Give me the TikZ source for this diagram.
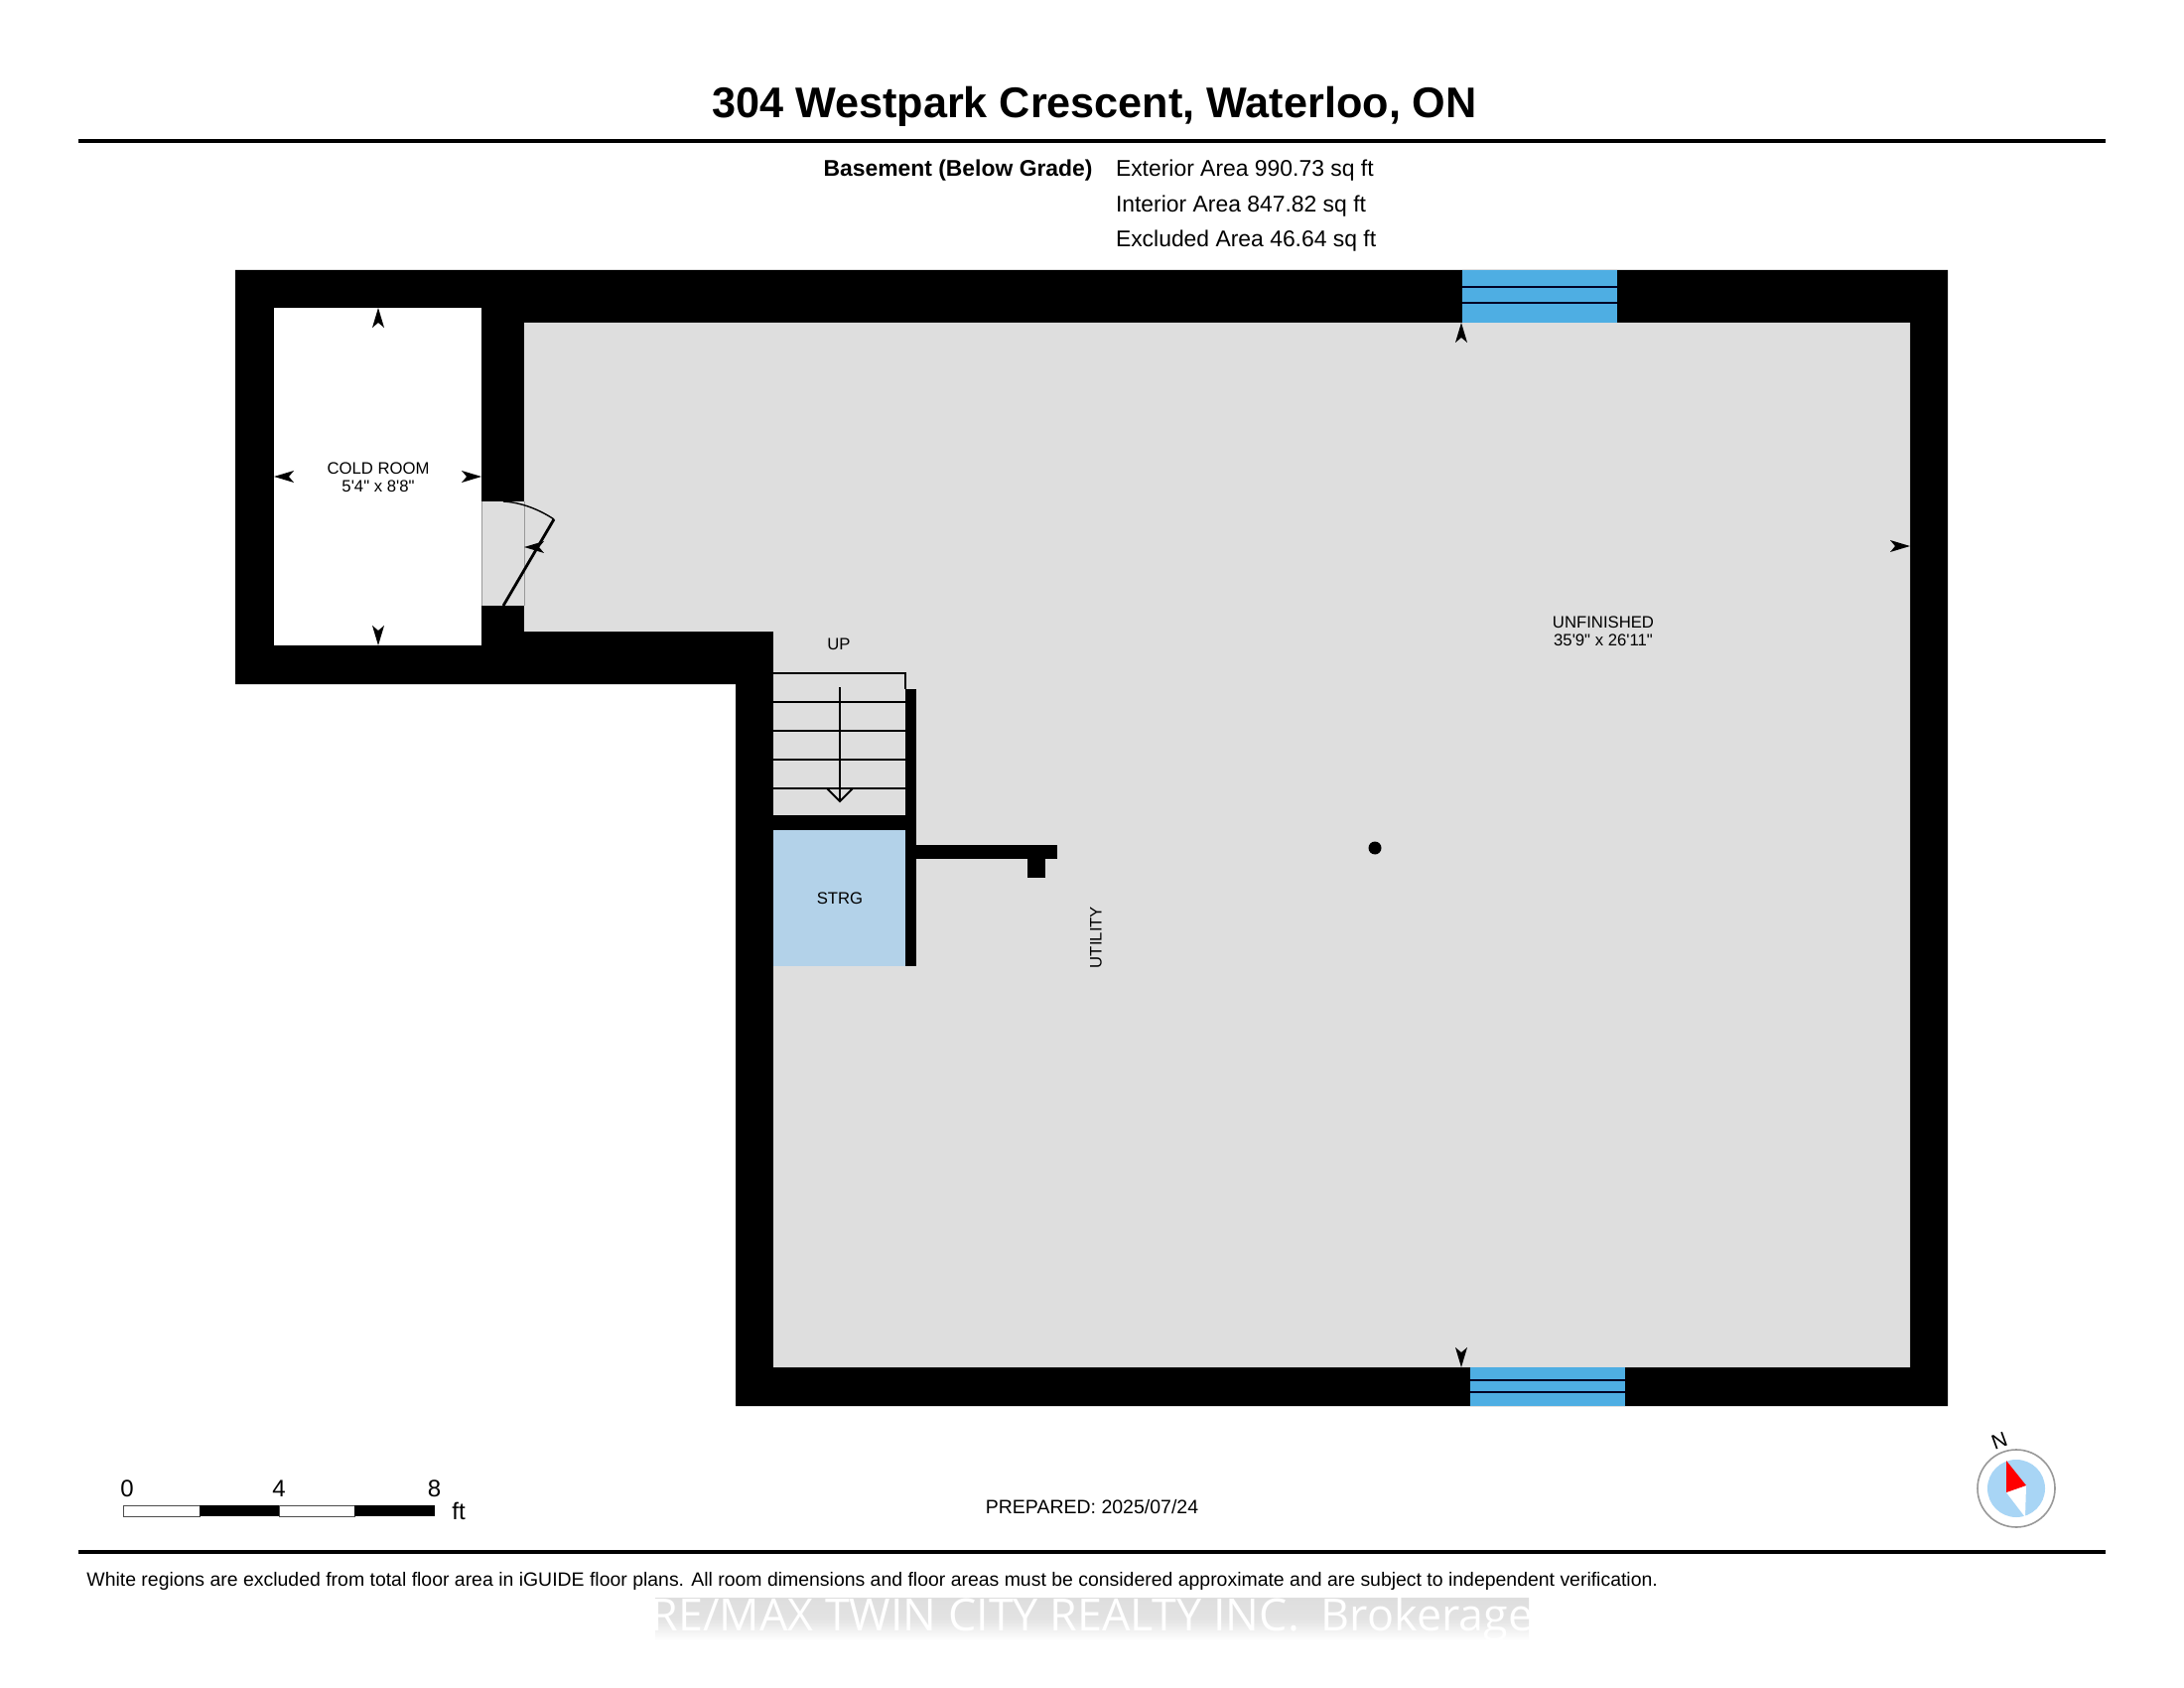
\documentclass[tikz,border=0pt]{standalone}
\usepackage{fontspec}
\setmainfont[Ligatures=TeXOff]{Liberation Sans}
\newfontfamily\wmfont{Open Sans}
\usetikzlibrary{shadings}
\definecolor{floorgray}{HTML}{DEDEDE}
\definecolor{strgblue}{HTML}{B3D2E9}
\definecolor{winblue}{HTML}{4EAEE3}
\definecolor{compblue}{HTML}{A8D5F5}
\newcommand{\arU}[2]{\fill (#1,#2) -- ++(-6,20) -- ++(6,-5) -- ++(6,5) -- cycle;}
\newcommand{\arD}[2]{\fill (#1,#2) -- ++(-6,-20) -- ++(6,5) -- ++(6,-5) -- cycle;}
\newcommand{\arL}[2]{\fill (#1,#2) -- ++(20,-6) -- ++(-5,6) -- ++(5,6) -- cycle;}
\newcommand{\arR}[2]{\fill (#1,#2) -- ++(-20,-6) -- ++(5,6) -- ++(-5,6) -- cycle;}
\tikzset{
  lbl/.style={inner sep=0pt,outer sep=0pt,align=center,font=\fontsize{8.35}{9}\selectfont},
  info/.style={inner sep=0pt,outer sep=0pt,anchor=base west,font=\fontsize{11.45}{14}\selectfont},
  scalelbl/.style={inner sep=0pt,outer sep=0pt,anchor=base,font=\fontsize{12}{14}\selectfont},
  rule/.style={line width=2pt,black},
  tread/.style={line width=1pt,black},
  winline/.style={line width=1pt,black!85!blue}
}
\begin{document}
\begin{tikzpicture}[x=0.5pt,y=-0.5pt]
\useasboundingbox (0,0) rectangle (2200,1700);
\fill[white] (0,0) rectangle (2200,1700);
% header
\node[inner sep=0pt,font=\bfseries\fontsize{21.6}{24}\selectfont] (title) at (1102.5,107) {304 Westpark Crescent, Waterloo, ON};
\coordinate (hl) at (79,142); \coordinate (hr) at (2121,142);
\draw[rule] (hl) -- (hr);
\node[inner sep=0pt,anchor=base east,font=\bfseries\fontsize{11.45}{14}\selectfont] (level) at (1101,178) {Basement (Below Grade)};
\node[info] (ext) at (1124,178) {Exterior Area 990.73 sq ft};
\node[info] (int) at (1124,213.5) {Interior Area 847.82 sq ft};
\node[info] (exc) at (1124,249) {Excluded Area 46.64 sq ft};
% walls
\fill[black] (237,272) -- (1962,272) -- (1962,1416) -- (741,1416) -- (741,689) -- (237,689) -- cycle;
\fill[floorgray] (528,325) -- (1924,325) -- (1924,1377) -- (779,1377) -- (779,636) -- (528,636) -- cycle;
\fill[white] (276,310) rectangle (485,650);
\fill[floorgray] (485,505) rectangle (528,610);
\draw[black!40,line width=0.4pt] (485,505) -- (485,610) (528,505) -- (528,610);
% windows
\fill[winblue] (1473,272) rectangle (1629,325);
\draw[winline] (1473,289) -- (1629,289) (1473,305) -- (1629,305);
\fill[winblue] (1481,1377) rectangle (1637,1416);
\draw[winline] (1481,1390) -- (1637,1390) (1481,1402) -- (1637,1402);
% stairs
\draw[tread] (779,678) -- (912,678) -- (912,694);
\draw[tread] (779,707) -- (912,707) (779,735.5) -- (912,735.5) (779,764.5) -- (912,764.5) (779,793.5) -- (912,793.5);
\fill[black] (779,821) rectangle (912,836);
\fill[black] (912,694) rectangle (923,973);
\fill[strgblue] (779,836) rectangle (912,973);
\fill[black] (923,851) rectangle (1065,865);
\fill[black] (1035,865) rectangle (1053,884);
\draw[tread] (846,692) -- (846,807);
\draw[tread] (833,794) -- (846,807) -- (859,794);
% column
\fill[black] (1385,854) circle[radius=6.5];
% door
\draw[line width=0.7pt] (507,505) .. controls (525,506) and (543,513) .. (558,523);
\draw[line width=1.4pt] (507,610) -- (558,523);
\arL{528}{551}
% dimension arrows
\arU{381}{310} \arD{381}{650} \arL{276}{480} \arR{485}{480}
\arU{1472}{325} \arD{1472}{1377} \arR{1924}{550}
% room labels
\node[lbl] (cold) at (381,480.5) {COLD ROOM\\5'4" x 8'8"};
\node[lbl] (unf) at (1615,635.5) {UNFINISHED\\35'9" x 26'11"};
\node[lbl] (up) at (845,648.5) {UP};
\node[lbl] (strg) at (846,905) {STRG};
\node[lbl,rotate=90] (util) at (1104,944) {UTILITY};
% scale bar
\draw[black!70,fill=white,line width=0.5pt] (124,1516) rectangle (201,1527);
\fill[black] (201,1516) rectangle (281,1527);
\draw[black!70,fill=white,line width=0.5pt] (281,1516) rectangle (357,1527);
\fill[black] (357,1516) rectangle (438,1527);
\node[scalelbl] (s0) at (128,1507) {0};
\node[scalelbl] (s4) at (281,1507) {4};
\node[scalelbl] (s8) at (437.5,1507) {8};
\node[scalelbl] (sft) at (462,1530) {ft};
\node[inner sep=0pt,font=\fontsize{9.75}{12}\selectfont] (prep) at (1100,1518) {PREPARED: 2025/07/24};
% compass
\fill[compblue] (2031,1499) circle[radius=29];
\draw[black!40,line width=0.8pt] (2031,1499) circle[radius=39];
\fill[white] (2021,1503) -- (2041,1496) -- (2040,1528) -- cycle;
\fill[red] (2021,1471) -- (2041,1496) -- (2021,1503) -- cycle;
\node[inner sep=0pt,rotate=20,font=\fontsize{10.5}{12}\selectfont] (north) at (2014,1451) {N};
% footer
\coordinate (fl) at (79,1563); \coordinate (fr) at (2121,1563);
\draw[rule] (fl) -- (fr);
\node[inner sep=0pt,anchor=base west,font=\fontsize{9.72}{12}\selectfont] (note) at (87,1597) {White regions are excluded from total floor area in iGUIDE floor plans. All room dimensions and floor areas must be considered approximate and are subject to independent verification.};
% watermark
\shade[top color=black!13,bottom color=white,middle color=black!11] (660,1609) rectangle (1540,1652);
\node[inner sep=0pt,anchor=base,white,font=\wmfont\fontsize{22.4}{24}\selectfont] (wm) at (1100,1642) {RE/MAX TWIN CITY REALTY INC.\hspace{11pt}Brokerage};
\end{tikzpicture}
\end{document}
